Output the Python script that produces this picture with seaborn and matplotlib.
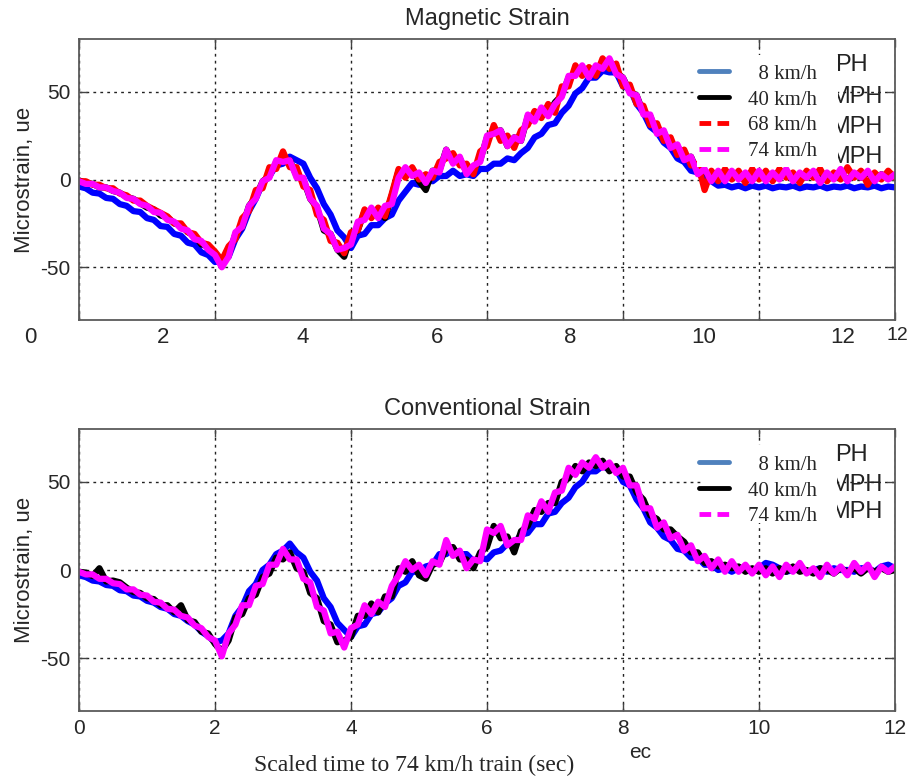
import numpy as np
import pandas as pd
import matplotlib
matplotlib.use("Agg")
import matplotlib.pyplot as plt
import seaborn as sns
from matplotlib.lines import Line2D
from matplotlib.patches import Rectangle
from matplotlib.font_manager import FontProperties

sns.set_style("ticks")
plt.rcParams["font.family"] = ["Liberation Sans", "DejaVu Sans"]
plt.rcParams["axes.unicode_minus"] = False

# time base: one sample every 0.1 s over 12 s
t = np.linspace(0, 12, 121)

speeds_mag = ["8 km/h", "40 km/h", "68 km/h", "74 km/h"]
speeds_conv = ["8 km/h", "40 km/h", "74 km/h"]

# Magnetic strain (microstrain)
mag_8 = [-4, -5, -7.5, -8, -10.5, -11, -14, -15, -18, -18.5,
         -22, -23, -26.5, -27, -31, -32, -36, -37, -41.5, -43,
         -47, -46, -44, -34, -28, -18, -11, -2, 2, 8,
         9, 13, 11, 9, 1, -5, -14, -20, -29, -33,
         -39, -32, -31, -26, -26, -22, -20, -12, -7, -2,
         -3, 0, -1, 2, 2, 5, 2, 3, 2, 6,
         6, 9, 9, 12, 11, 15, 18, 24, 26, 31,
         32, 38, 42, 49, 52, 58, 58, 62, 61, 61,
         53, 52, 43, 38, 30, 27, 21, 18, 12, 10,
         5, 4, 0, -1, -3.5, -3, -4.5, -3.5, -5, -3.5,
         -4.5, -3.5, -5, -4, -4.5, -3.5, -5, -4, -4.5, -3.5,
         -5, -4, -4.5, -3.5, -5, -4, -4.5, -3.5, -5, -4,
         -4.5]
mag_40 = [-0.5, -2, -2.5, -4.5, -4.5, -6.5, -7.5, -10, -11, -13.5,
          -16, -17, -20.5, -21.5, -25, -26, -30, -32, -37, -38,
          -43, -45, -43, -31, -27, -15, -10, -1, 2, 10,
          11, 11, 2, 0, -11, -16, -29, -31, -40, -44,
          -32, -29, -18, -21, -17, -22, -9, 5, 2, 6,
          -1, -6, 5, 5, 17, 10, 12, 4, 6, 11,
          24, 27, 28, 19, 24, 22, 36, 34, 40, 37,
          44, 48, 58, 60, 64, 59, 64, 64, 68, 61,
          58, 50, 48, 38, 36, 27, 27, 19, 19, 12,
          13, 4, 5, 0, 4, 0, 4, 1, 3, 0,
          4, 0, 3, 1, 4, 0, 3, 1, 4, 0,
          3, 1, 4, 0, 3, 1, 4, 0, 3, 1,
          2]
mag_68 = [-1, -1, -3, -3, -5, -5, -8, -9, -12, -12,
          -15, -17, -19, -21, -25, -25, -30, -31, -36, -37,
          -41, -46, -38, -34, -22, -18, -6, -5, 7, 6,
          16, 7, 7, -4, -6, -20, -23, -35, -36, -42,
          -30, -29, -17, -22, -16, -21, -8, 6, 1, 7,
          0, 3, 1, 10, 12, 15, 8, 9, 3, 16,
          19, 31, 22, 25, 18, 28, 31, 39, 35, 43,
          38, 53, 53, 65, 59, 64, 59, 69, 63, 66,
          53, 54, 43, 42, 31, 32, 22, 24, 14, 17,
          8, 9, -6, 5, -1, 6, 0, 5, -2, 6,
          0, 5, -1, 6, 1, 4, -2, 5, 1, 6,
          -1, 4, 0, 7, 1, 5, -3, 4, 0, 5,
          1]
mag_74 = [-1, -2.5, -2.5, -4.5, -4.5, -6.5, -7.5, -10.5, -11, -14,
          -15, -18.5, -19, -23, -24, -28, -29, -34, -35, -40,
          -43, -50, -44, -30, -27, -15, -11, -1, 1, 11,
          10, 11, 1, 1, -11, -15, -28, -31, -40, -39,
          -37, -24, -23, -16, -22, -15, -14, 1, 7, 2,
          4, -2, 5, 4, 17, 9, 13, 3, 8, 10,
          25, 26, 28, 19, 24, 22, 37, 33, 41, 36,
          43, 47, 59, 59, 65, 58, 65, 63, 69, 60,
          58, 49, 48, 37, 37, 26, 28, 18, 20, 11,
          13, 3, 6, -1, 5, -1, 5, 0, 4, -1,
          5, -1, 4, 0, 6, -1, 4, 1, 5, -2,
          4, 0, 6, -1, 4, 1, 5, -1, 3, 0,
          3]

# Conventional strain (microstrain)
conv_8 = [-3, -4, -6, -6.5, -8.5, -9, -11.5, -12, -14.5, -15,
          -17.5, -18.5, -21, -22, -25, -26, -29, -31, -35, -37.5,
          -41, -40, -36, -26, -21, -12, -8, 0, 3, 9,
          11, 15, 10, 7, -1, -6, -16, -21, -30, -34,
          -38, -32, -31, -25, -24, -19, -16, -9, -7, -1,
          -1, 2, 3, 9, 9, 12, 9, 9, 5, 7,
          6, 10, 11, 15, 15, 20, 21, 26, 26, 32,
          33, 38, 41, 47, 50, 56, 56, 59, 57, 57,
          50, 48, 40, 35, 27, 24, 19, 17, 12, 11,
          7, 7, 3, 3, 0, 1, -1, 1, 0, -1,
          1, 4, 3, 1, -1, 0, 2, -1, 0, 1,
          -1, 1, 0, 0, -1, 1, 1, -1, 2, 3,
          1]
conv_40 = [-1, -1.5, -3.5, 1, -6.5, -6, -7, -10, -12.5, -13,
           -16, -16.5, -20, -20, -24, -20, -28.5, -29.5, -35, -36,
           -42, -46, -40, -27, -25, -16, -14, -4, -2, 7,
           6, 10, 1, -1, -13, -16, -29, -31, -41, -40,
           -38, -26, -26, -19, -24, -15, -15, 1, -1, 5,
           -3, -5, 3, 4, 12, 13, 6, 6, 1, 10,
           13, 25, 18, 19, 10, 22, 25, 34, 33, 38,
           38, 50, 52, 59, 56, 61, 59, 62, 56, 59,
           53, 53, 44, 40, 31, 29, 23, 23, 19, 16,
           10, 10, 4, 5, 2, 3, 1, 2, -1, 1,
           -1, 1, -2, 1, -1, 2, -1, 0, -2, 1,
           0, -2, 1, -1, 1, -2, 1, -1, 1, -1,
           0]
conv_74 = [-1, -2.5, -2.5, -5, -5, -7.5, -8, -11, -11, -14,
           -14.5, -18, -18.5, -22, -22.5, -26, -27, -31.5, -33, -38,
           -40, -49, -36, -31, -20, -20, -9, -8, 3, 3,
           12, 6, 6, -5, -7, -21, -23, -36, -35, -44,
           -33, -31, -20, -25, -18, -21, -9, -3, 5, 0,
           3, -3, 5, 3, 17, 8, 11, 1, 6, 5,
           23, 21, 25, 14, 17, 17, 31, 29, 39, 33,
           44, 45, 58, 54, 61, 58, 64, 58, 61, 55,
           58, 48, 48, 35, 35, 24, 27, 18, 20, 11,
           14, 5, 8, 1, 6, -1, 5, -1, 3, -2,
           3, -3, 2, -4, 3, -1, 4, -2, 1, -4,
           3, -2, 2, -3, 4, -1, 3, -4, 2, -1,
           2]

line_colors = {"8 km/h": "#0000FF", "40 km/h": "#000000",
               "68 km/h": "#FF0000", "74 km/h": "#FF00FF"}
legend_colors = {"8 km/h": "#4F81BD", "40 km/h": "#000000",
                 "68 km/h": "#FF0000", "74 km/h": "#FF00FF"}
legend_dashed = {"8 km/h": False, "40 km/h": False,
                 "68 km/h": True, "74 km/h": True}

df_mag = pd.DataFrame({
    "t": np.tile(t, 4),
    "strain": np.concatenate([mag_8, mag_40, mag_68, mag_74]),
    "speed": np.repeat(speeds_mag, len(t)),
})
df_conv = pd.DataFrame({
    "t": np.tile(t, 3),
    "strain": np.concatenate([conv_8, conv_40, conv_74]),
    "speed": np.repeat(speeds_conv, len(t)),
})

W, H = 911, 778
fig = plt.figure(figsize=(W / 100, H / 100), dpi=100)
fig.patch.set_facecolor("white")


def fx(px):
    return px / W


def fy(py):
    return 1 - py / H


ax_top = fig.add_axes([fx(79), fy(320), fx(895) - fx(79), fy(39) - fy(320)])
ax_bot = fig.add_axes([fx(79), fy(711), fx(895) - fx(79), fy(429) - fy(711)])

serif = "Liberation Serif"


def style_axes(ax, title):
    ax.set_xlim(0, 12)
    ax.set_ylim(-80, 80)
    ax.set_xticks([0, 2, 4, 6, 8, 10, 12])
    ax.set_yticks([-50, 0, 50])
    ax.set_axisbelow(True)
    ax.grid(True, color="#222222", linestyle=(0, (2, 3)), linewidth=1.0)
    for s in ax.spines.values():
        s.set_color("#5a5a5a")
        s.set_linewidth(1.3)
    ax.tick_params(direction="in", length=6, width=1, color="#444444",
                   top=True, right=True, labelsize=15, pad=6)
    ax.set_ylabel("Microstrain, ue", fontsize=16, labelpad=4)
    ax.set_xlabel("")
    ax.set_title(title, fontsize=17, pad=10)


def add_legend(ax, labels, anchor, box):
    # plain white panel behind the key
    x0, y0, x1, y1 = box
    ax.add_patch(Rectangle((fx(x0), fy(y1)), fx(x1) - fx(x0), fy(y0) - fy(y1),
                           transform=fig.transFigure, facecolor="white",
                           edgecolor="none", zorder=4, clip_on=False))
    handles = []
    for lab in labels:
        if legend_dashed[lab]:
            h = Line2D([], [], color=legend_colors[lab], lw=3.5, ls=(0, (2.4, 1.3)))
        else:
            h = Line2D([], [], color=legend_colors[lab], lw=3.5)
        handles.append(h)
    shown = [("  " + lab) if lab.startswith("8 ") else lab for lab in labels]
    leg = ax.legend(handles, shown, loc="upper right", bbox_to_anchor=anchor,
                    bbox_transform=fig.transFigure, frameon=False,
                    prop=FontProperties(family=serif, size=15),
                    handlelength=1.45, handletextpad=0.9, labelspacing=0.3,
                    borderpad=0.2, borderaxespad=0)
    leg.set_zorder(6)


# upper panel
sns.lineplot(data=df_mag, x="t", y="strain", hue="speed", hue_order=speeds_mag,
             palette=line_colors, lw=4.5, legend=False, ax=ax_top,
             estimator=None, sort=False, solid_joinstyle="round")
style_axes(ax_top, "Magnetic Strain")
ax_top.tick_params(labelbottom=False)
for txt, px, py in [("PH", 868, 65), ("MPH", 883, 97), ("MPH", 883, 127), ("MPH", 883, 157)]:
    ax_top.text(fx(px), fy(py), txt, transform=fig.transFigure, ha="right", va="center",
                fontsize=17, color="#222222", zorder=3)
add_legend(ax_top, speeds_mag, (fx(821), fy(60)), (697, 55, 838, 167))
for lab, px in zip(["0", "2", "4", "6", "8", "10", "12"], [30, 163, 303, 437, 570, 704, 843]):
    fig.text(fx(px), fy(338), lab, ha="center", va="center", fontsize=16)
fig.text(fx(897), fy(335), "12", ha="center", va="center", fontsize=14)

# lower panel
sns.lineplot(data=df_conv, x="t", y="strain", hue="speed", hue_order=speeds_conv,
             palette=line_colors, lw=4.5, legend=False, ax=ax_bot,
             estimator=None, sort=False, solid_joinstyle="round")
style_axes(ax_bot, "Conventional Strain")
for txt, px, py in [("PH", 868, 455), ("MPH", 882, 485), ("MPH", 882, 512)]:
    ax_bot.text(fx(px), fy(py), txt, transform=fig.transFigure, ha="right", va="center",
                fontsize=17, color="#222222", zorder=3)
add_legend(ax_bot, speeds_conv, (fx(821), fy(451)), (702, 445, 837, 523))

fig.text(fx(640), fy(752), "ec", ha="center", va="center", fontsize=15)
fig.text(fx(414), fy(765), "Scaled time to 74 km/h train (sec)", ha="center", va="center",
         fontsize=17, family=serif)

fig.savefig("out.png", dpi=100, facecolor="white")
